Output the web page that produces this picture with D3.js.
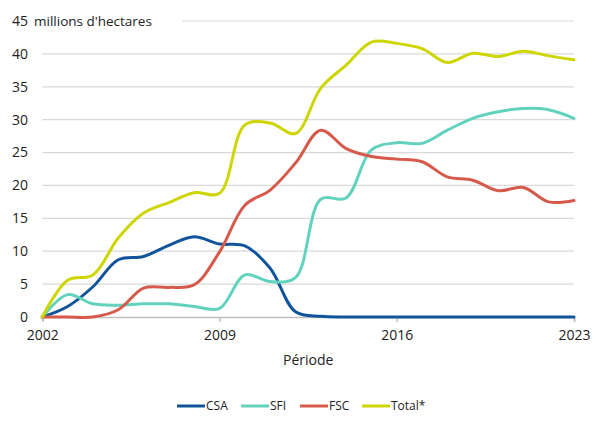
<!DOCTYPE html>
<html><head><meta charset="utf-8">
<script src="https://cdn.jsdelivr.net/npm/d3@7"></script>
<style>body{margin:0;background:#fff}svg{display:block}text{font-family:"Open Sans","Noto Sans",sans-serif;fill:#222}</style>
</head><body><svg id="c" width="600" height="423"></svg>
<script>
const years = d3.range(2002, 2024);
const csa   = [0,1.6,4.6,8.7,9.2,10.9,12.2,11.1,10.8,7.4,0.8,0.1,0,0,0,0,0,0,0,0,0,0];
const sfi   = [0,3.4,2.0,1.8,2.0,2.0,1.6,1.3,6.4,5.4,6.0,17.9,18.1,25.4,26.5,26.4,28.4,30.2,31.2,31.7,31.5,30.2];
const fsc   = [0,0,0,1.1,4.4,4.5,4.9,9.9,17.0,19.3,23.4,28.4,25.6,24.4,24.0,23.6,21.3,20.8,19.2,19.7,17.5,17.7];
const total = [0,5.6,6.4,12.0,15.8,17.4,18.9,18.8,29.2,29.5,27.9,34.8,38.3,41.8,41.6,40.8,38.7,40.1,39.6,40.4,39.7,39.1];
const yTicks = [0,5,10,15,20,25,30,35,40,45];
const xTicks = [2002,2009,2016,2023];
const seriesNames = ["CSA","SFI","FSC","Total*"];
const seriesColors = ["#12549b","#62d2bd","#d65a4b","#cdd600"];
const seriesData = [csa, sfi, fsc, total];
const yTitle = "millions d'hectares";
const xTitle = "Période";

const svg = d3.select("#c");
const x = d3.scaleLinear().domain([2002,2023]).range([42.3,574]);
const y = d3.scaleLinear().domain([0,45]).range([317,21]);

// gridlines
svg.append("g").selectAll("line").data(yTicks.filter(d=>d>0)).join("line")
  .attr("x1",x(2002)).attr("x2",x(2023))
  .attr("y1",d=>y(d)).attr("y2",d=>y(d))
  .attr("stroke","#d9d9d9").attr("stroke-width",1.2);

// y labels
svg.append("g").selectAll("text").data(yTicks).join("text")
  .attr("x",28).attr("y",d=>y(d)).attr("dy","0.35em")
  .attr("text-anchor","end").attr("font-size",14).text(d=>d);

// y title with white backing
const bg = svg.append("rect").attr("fill","#fff");
const tt = svg.append("text").attr("x",34).attr("y",y(45)).attr("dy","0.35em")
  .attr("font-size",13.5).text(yTitle);
const bb = tt.node().getBBox();
bg.attr("x",bb.x-2).attr("y",bb.y).attr("width",182-(bb.x-2)).attr("height",bb.height);

// x axis
const xa = svg.append("g").attr("transform",`translate(0,${y(0)})`)
  .call(d3.axisBottom(x).tickValues(xTicks).tickFormat(d3.format("d")).tickSize(5).tickPadding(8));
xa.select(".domain").attr("stroke","#bfbfbf").attr("stroke-width",1.5);
xa.selectAll(".tick line").attr("stroke","#bfbfbf").attr("stroke-width",1.5);
xa.selectAll(".tick text").attr("font-size",14).attr("fill","#222").attr("font-family","'Open Sans','Noto Sans',sans-serif");

svg.append("text").attr("x",(x(2002)+x(2023))/2).attr("y",365).attr("text-anchor","middle")
  .attr("font-size",14).text(xTitle);

// lines
const line = d3.line().x((d,i)=>x(years[i])).y(d=>y(d)).curve(d3.curveCatmullRom.alpha(0.5));
svg.append("g").selectAll("path").data(seriesData).join("path")
  .attr("d",line).attr("fill","none")
  .attr("stroke",(d,i)=>seriesColors[i]).attr("stroke-width",3)
  .attr("stroke-linejoin","round").attr("stroke-linecap","round");

// legend
const legX = [177,241,300,362];
const lg = svg.append("g").selectAll("g").data(seriesNames).join("g")
  .attr("transform",(d,i)=>`translate(${legX[i]},406)`);
lg.append("line").attr("x1",0).attr("x2",28).attr("stroke",(d,i)=>seriesColors[i]).attr("stroke-width",3);
lg.append("text").attr("x",29).attr("dy","0.35em").attr("font-size",12).text(d=>d);
</script></body></html>
